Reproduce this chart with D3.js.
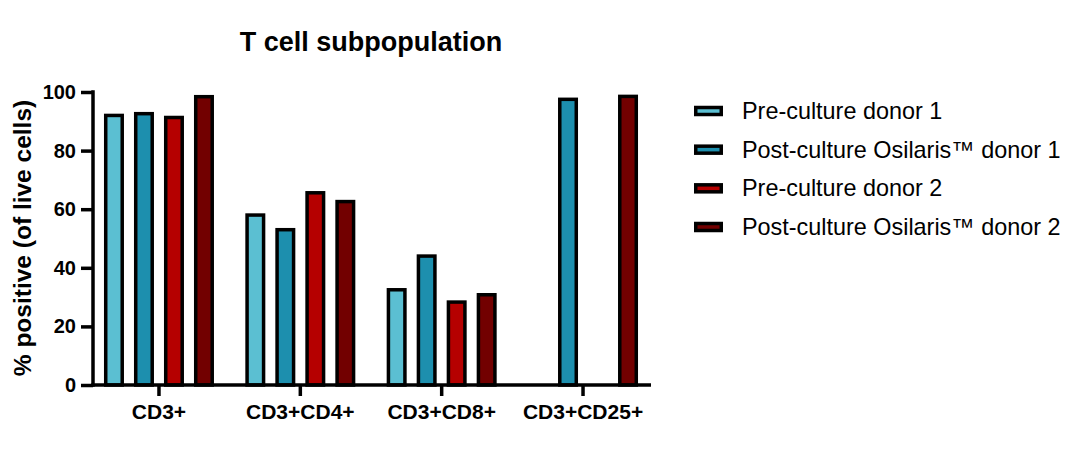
<!DOCTYPE html>
<html>
<head>
<meta charset="utf-8">
<script src="https://cdn.jsdelivr.net/npm/d3@7"></script>
<style>
  body { margin: 0; background: #fff; }
  svg { display: block; font-family: "Liberation Sans", Arial, Helvetica, sans-serif; }
</style>
</head>
<body>
<svg id="chart" width="1083" height="456"></svg>
<script>
const categories = ["CD3+", "CD3+CD4+", "CD3+CD8+", "CD3+CD25+"];
const seriesNames = ["Pre-culture donor 1", "Post-culture Osilaris\u2122 donor 1", "Pre-culture donor 2", "Post-culture Osilaris\u2122 donor 2"];
const preDonor1  = [92, 58, 32.5, null];
const postDonor1 = [92.6, 53, 44, 97.5];
const preDonor2  = [91.3, 65.6, 28.3, null];
const postDonor2 = [98.4, 62.6, 30.8, 98.5];
const seriesColors = ["#5bbfd2", "#1d8fae", "#b50000", "#720000"];
const yTicks = [0, 20, 40, 60, 80, 100];
const titleText = "T cell subpopulation";
const yLabel = "% positive (of live cells)";

const seriesValues = [preDonor1, postDonor1, preDonor2, postDonor2];

const svg = d3.select("#chart");
const axisW = 3.5;

const y = d3.scaleLinear().domain([0, 100]).range([385, 92]);
const x0 = d3.scaleBand().domain(categories).range([88.3, 653.7]).padding(0);
const x1 = d3.scaleBand().domain(d3.range(seriesNames.length)).range([-60, 60]).paddingInner(0.45).paddingOuter(0.225);

// Bars
const groups = svg.append("g").selectAll("g")
  .data(categories)
  .join("g")
  .attr("transform", d => `translate(${x0(d) + x0.bandwidth() / 2},0)`);

groups.selectAll("rect")
  .data((c, ci) => seriesValues.map((vals, si) => ({ si, v: vals[ci] })).filter(d => d.v != null))
  .join("rect")
  .attr("x", d => x1(d.si))
  .attr("width", x1.bandwidth())
  .attr("y", d => y(d.v))
  .attr("height", d => y(0) - y(d.v))
  .attr("fill", d => seriesColors[d.si])
  .attr("stroke", "#000")
  .attr("stroke-width", 3.5);

// Y axis
const yAxis = svg.append("g")
  .attr("transform", "translate(93,0)")
  .call(d3.axisLeft(y).tickValues(yTicks).tickSize(12).tickSizeOuter(0).tickPadding(5));
yAxis.select(".domain").remove();
yAxis.append("line")
  .attr("x1", 0).attr("x2", 0)
  .attr("y1", y(100) - axisW / 2).attr("y2", y(0) + axisW / 2)
  .attr("stroke", "#000").attr("stroke-width", axisW);
yAxis.selectAll(".tick line").attr("stroke", "#000").attr("stroke-width", axisW);
yAxis.selectAll(".tick text")
  .attr("fill", "#000")
  .style("font-size", "20px")
  .style("font-weight", "bold")
  .style("font-family", '"Liberation Sans", Arial, sans-serif');

// X axis
const xAxis = svg.append("g")
  .attr("transform", `translate(0,${y(0)})`)
  .call(d3.axisBottom(x0).tickSize(11).tickSizeOuter(0).tickPadding(8));
xAxis.select(".domain").remove();
xAxis.append("line")
  .attr("x1", 91.25).attr("x2", 651)
  .attr("y1", 0).attr("y2", 0)
  .attr("stroke", "#000").attr("stroke-width", axisW);
xAxis.selectAll(".tick line").attr("stroke", "#000").attr("stroke-width", axisW);
xAxis.selectAll(".tick text")
  .attr("fill", "#000")
  .style("font-size", "21px")
  .style("font-weight", "bold")
  .style("font-family", '"Liberation Sans", Arial, sans-serif');

// Title
svg.append("text")
  .attr("x", 371).attr("y", 51)
  .attr("text-anchor", "middle")
  .style("font-size", "27px")
  .style("font-weight", "bold")
  .text(titleText);

// Y label
svg.append("text")
  .attr("transform", "translate(31,238) rotate(-90)")
  .attr("text-anchor", "middle")
  .style("font-size", "24.5px")
  .style("font-weight", "bold")
  .text(yLabel);

// Legend
const legendY = d3.scalePoint().domain(d3.range(seriesNames.length)).range([111, 227]);
const legend = svg.append("g").selectAll("g")
  .data(seriesNames)
  .join("g")
  .attr("transform", (d, i) => `translate(0,${legendY(i)})`);
legend.append("rect")
  .attr("x", 695.75).attr("y", -3.5)
  .attr("width", 25.5).attr("height", 7)
  .attr("fill", (d, i) => seriesColors[i])
  .attr("stroke", "#000").attr("stroke-width", 3.5);
legend.append("text")
  .attr("x", 742).attr("y", 8)
  .style("font-size", "23.4px")
  .attr("fill", "#000")
  .text(d => d);
</script>
</body>
</html>
